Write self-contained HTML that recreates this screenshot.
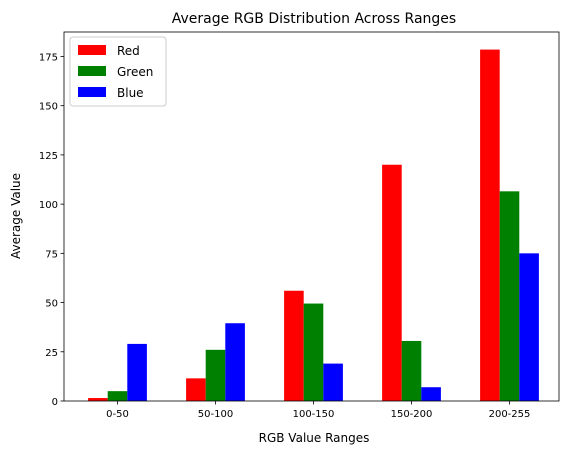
<!DOCTYPE html>
<html><head><meta charset="utf-8"><style>
body{margin:0;background:#fff;}
svg text{font-family:"DejaVu Sans","Liberation Sans",sans-serif;fill:#000;}
</style></head><body>
<svg id="chart" width="571" height="455" viewBox="0 0 571 455">
<rect x="0" y="0" width="571" height="455" fill="#fff"/>
<g id="bars"></g>
<g id="axes"></g>
<text x="314" y="23" font-size="14" text-anchor="middle">Average RGB Distribution Across Ranges</text>
<text x="314" y="442" font-size="12" text-anchor="middle">RGB Value Ranges</text>
<text x="20" y="216" font-size="12" text-anchor="middle" transform="rotate(-90 20 216)">Average Value</text>
<g>
<rect x="70" y="37" width="96" height="69" fill="#fff" stroke="#ccc" rx="3"/>
<rect x="78" y="45" width="28" height="10" fill="#ff0000"/>
<text x="117" y="55" font-size="12">Red</text>
<rect x="78" y="66" width="28" height="10" fill="#008000"/>
<text x="117" y="76" font-size="12">Green</text>
<rect x="78" y="87" width="28" height="10" fill="#0000ff"/>
<text x="117" y="97" font-size="12">Blue</text>
</g>
</svg>
<script>
const categories = ["0-50","50-100","100-150","150-200","200-255"];
const redValues = [1.5, 11.5, 56, 120, 178.5];
const greenValues = [5, 26, 49.5, 30.5, 106.5];
const blueValues = [29, 39.5, 19, 7, 75];
const yTicks = [0, 25, 50, 75, 100, 125, 150, 175];

const NS = "http://www.w3.org/2000/svg";
const L = 64, R = 559, T = 32, B = 401;
const n = categories.length;
const X0 = 117.5, XSTEP = 98;
const allVals = redValues.concat(greenValues, blueValues);
const ymax = Math.max(...allVals) * 1.05;
function xs(v){ return X0 + v * XSTEP; }
function ys(v){ return B - v / ymax * (B - T); }
function mk(tag, attrs, parent){ const e = document.createElementNS(NS, tag); for (const k in attrs) e.setAttribute(k, attrs[k]); parent.appendChild(e); return e; }

const bars = document.getElementById('bars');
const series = [["red", redValues, "#ff0000", -0.2], ["green", greenValues, "#008000", 0], ["blue", blueValues, "#0000ff", 0.2]];
series.forEach(s => {
  s[1].forEach((v, i) => {
    const x1 = xs(i + s[3] - 0.1), x2 = xs(i + s[3] + 0.1);
    const r = mk('rect', {x: x1, y: ys(v), width: x2 - x1, height: ys(0) - ys(v), fill: s[2]}, bars);
    
    
  });
});

const ax = document.getElementById('axes');
mk('rect', {x: L, y: T, width: R - L, height: B - T, fill: 'none', stroke: '#000', 'stroke-width': 0.8}, ax);
yTicks.forEach(t => {
  const y = ys(t);
  mk('line', {x1: L - 3.5, x2: L, y1: y, y2: y, stroke: '#000', 'stroke-width': 0.8}, ax);
  const tx = mk('text', {x: L - 6, y: y + 4, 'font-size': 10, 'text-anchor': 'end'}, ax);
  tx.textContent = t;
  
  
});
categories.forEach((c, i) => {
  const x = xs(i);
  mk('line', {x1: x, x2: x, y1: B, y2: B + 3.5, stroke: '#000', 'stroke-width': 0.8}, ax);
  const tx = mk('text', {x: x, y: B + 16, 'font-size': 10, 'text-anchor': 'middle'}, ax);
  tx.textContent = c;
  
  
});
</script>
</body></html>
